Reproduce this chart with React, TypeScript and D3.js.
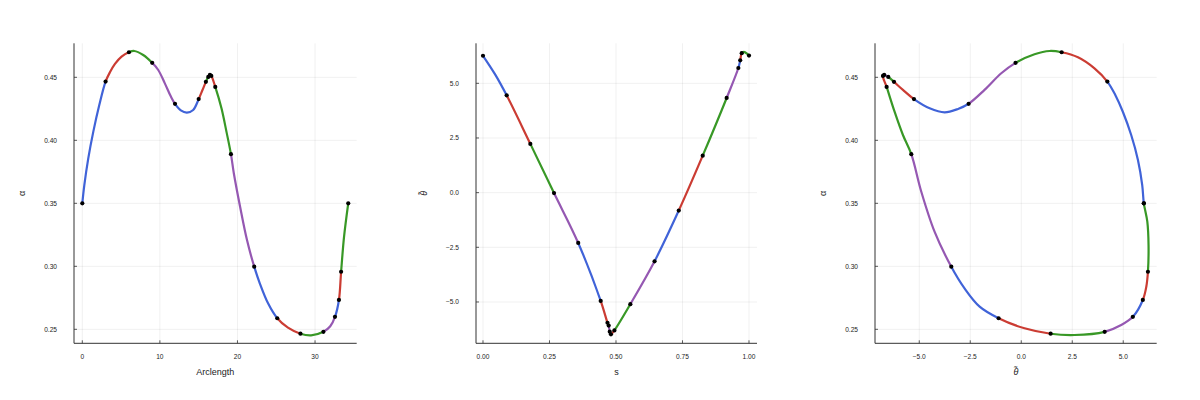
import React from "react";
import * as d3 from "d3";

// Segment colours cycle (blue, red, green, purple)
const segColors = ["#4063D8", "#CB3C33", "#389826", "#9558B2"];

// ---- Panel 1 : α versus arclength ----
const arclengthKnots = [0, 3.0, 6.01, 9.01, 11.95, 15.0, 15.93, 16.24, 16.45, 16.63, 17.14, 19.16, 22.16, 25.13, 28.12, 31.08, 32.57, 33.08, 33.36, 34.28];
const alphaKnots = [0.35, 0.4466, 0.4699, 0.4615, 0.429, 0.4327, 0.4464, 0.4503, 0.4519, 0.4511, 0.4424, 0.389, 0.2997, 0.2588, 0.2465, 0.248, 0.2599, 0.2733, 0.2957, 0.35];
// [segment, arclength, α] points read along the curve between knots
const arclengthVias: [number, number, number][] = [
  [0, 0.26, 0.3645], [0, 0.77, 0.3857], [0, 1.42, 0.4069], [0, 2.19, 0.428],
  [1, 3.56, 0.454], [1, 4.21, 0.4606], [1, 5.06, 0.4664],
  [2, 6.7, 0.4709], [2, 7.85, 0.4677],
  [3, 9.79, 0.4558], [3, 10.64, 0.4452], [3, 11.42, 0.4347],
  [4, 12.7, 0.4238], [4, 13.48, 0.422], [4, 14.29, 0.4241],
  [5, 15.49, 0.4399],
  [10, 17.94, 0.4254], [10, 18.58, 0.4069],
  [11, 19.53, 0.3739], [11, 20.34, 0.3473], [11, 21.23, 0.3208],
  [12, 22.89, 0.2863], [12, 23.96, 0.2704],
  [13, 26.51, 0.2513],
  [14, 29.49, 0.2452],
  [15, 31.96, 0.2524],
  [18, 33.74, 0.3235],
];

// ---- Panel 2 : θ̃ versus s ----
const sKnots = [0, 0.089, 0.178, 0.267, 0.358, 0.4425, 0.468, 0.4725, 0.4765, 0.481, 0.494, 0.554, 0.645, 0.736, 0.826, 0.916, 0.96, 0.967, 0.9726, 1.0];
const thetaSKnots = [6.26, 4.45, 2.23, -0.02, -2.3, -4.95, -5.95, -6.08, -6.36, -6.48, -6.3, -5.1, -3.14, -0.82, 1.69, 4.33, 5.7, 6.05, 6.38, 6.27];
const sVias: [number, number, number][] = [
  [0, 0.045, 5.42],
  [18, 0.981, 6.44],
];

// ---- Panel 3 : α versus θ̃ (closed loop) ----
const thetaKnots = [6.01, 4.22, 1.98, -0.28, -2.58, -5.26, -6.24, -6.52, -6.72, -6.78, -6.6, -5.39, -3.43, -1.11, 1.44, 4.09, 5.47, 5.96, 6.21, 6.01];
const thetaVias: [number, number, number][] = [
  [0, 5.93, 0.3645], [0, 5.72, 0.3844], [0, 5.39, 0.4042], [0, 4.98, 0.4227], [0, 4.61, 0.436],
  [1, 3.59, 0.4571], [1, 2.78, 0.4659],
  [2, 1.39, 0.4709], [2, 0.65, 0.4683],
  [3, -0.98, 0.4532], [3, -1.8, 0.44],
  [4, -3.1, 0.4249], [4, -3.76, 0.4222], [4, -4.49, 0.4254],
  [5, -5.8, 0.44],
  [10, -6.21, 0.4227], [10, -5.8, 0.4042],
  [11, -4.9, 0.3592], [11, -4.25, 0.3275],
  [12, -2.78, 0.2825], [12, -2.04, 0.268],
  [13, 0.16, 0.2508],
  [14, 2.61, 0.2455],
  [15, 4.9, 0.2534],
  [17, 6.13, 0.2838],
  [18, 6.24, 0.3169], [18, 6.18, 0.3354],
];

// ---- Ticks ----
const arclengthTicks = [0, 10, 20, 30];
const alphaTicks = [0.25, 0.3, 0.35, 0.4, 0.45];
const sTicks = [0, 0.25, 0.5, 0.75, 1];
const thetaTicks = [-5, -2.5, 0, 2.5, 5];

type Via = [number, number, number];
interface PanelSpec {
  xs: number[];
  ys: number[];
  vias: Via[];
  closed: boolean;
  left: number;
  right: number;
  xDomain: [number, number];
  yDomain: [number, number];
  xTicks: number[];
  yTicks: number[];
  xFmt: (v: number) => string;
  yFmt: (v: number) => string;
  xLabel: string;
  yLabel: string;
  xItalic?: boolean;
  yItalic?: boolean;
}

const TOP = 43.3;
const BOTTOM = 343.3;

const panels: PanelSpec[] = [
  {
    xs: arclengthKnots, ys: alphaKnots, vias: arclengthVias, closed: false,
    left: 74, right: 356.7, xDomain: [-1.07, 35.37], yDomain: [0.2389, 0.477],
    xTicks: arclengthTicks, yTicks: alphaTicks,
    xFmt: d3.format("d"), yFmt: d3.format(".2f"),
    xLabel: "Arclength", yLabel: "α",
  },
  {
    xs: sKnots, ys: thetaSKnots, vias: sVias, closed: false,
    left: 476, right: 757, xDomain: [-0.0263, 1.0301], yDomain: [-6.89, 6.83],
    xTicks: sTicks, yTicks: thetaTicks,
    xFmt: d3.format(".2f"), yFmt: d3.format(".1f"),
    xLabel: "s", yLabel: "θ̃", yItalic: true,
  },
  {
    xs: thetaKnots, ys: alphaKnots, vias: thetaVias, closed: true,
    left: 875, right: 1156.7, xDomain: [-7.17, 6.64], yDomain: [0.2389, 0.477],
    xTicks: thetaTicks, yTicks: alphaTicks,
    xFmt: d3.format(".1f"), yFmt: d3.format(".2f"),
    xLabel: "θ̃", yLabel: "α", xItalic: true,
  },
];

function Panel({ p }: { p: PanelSpec }) {
  const x = d3.scaleLinear().domain(p.xDomain).range([p.left, p.right]);
  const y = d3.scaleLinear().domain(p.yDomain).range([BOTTOM, TOP]);

  // ordered list of points (knots + points along the curve)
  const pts: [number, number][] = [];
  const knotIdx: number[] = [];
  for (let i = 0; i < p.xs.length; i++) {
    knotIdx.push(pts.length);
    pts.push([p.xs[i], p.ys[i]]);
    if (i < p.xs.length - 1) {
      p.vias.filter((v) => v[0] === i).forEach((v) => pts.push([v[1], v[2]]));
    }
  }

  const line = d3
    .line<[number, number]>()
    .x((d) => x(d[0]))
    .y((d) => y(d[1]))
    .curve(d3.curveCatmullRomOpen.alpha(0.5));

  const segs: { d: string; color: string }[] = [];
  for (let i = 0; i < p.xs.length - 1; i++) {
    const a = knotIdx[i];
    const b = knotIdx[i + 1];
    const body = pts.slice(a, b + 1);
    let prev: [number, number];
    let next: [number, number];
    if (a > 0) prev = pts[a - 1];
    else prev = p.closed ? pts[pts.length - 2] : pts[0];
    if (b < pts.length - 1) next = pts[b + 1];
    else next = p.closed ? pts[1] : pts[pts.length - 1];
    segs.push({ d: line([prev, ...body, next]) || "", color: segColors[i % segColors.length] });
  }

  const midX = (p.left + p.right) / 2;
  const midY = (TOP + BOTTOM) / 2;
  const yLabelX = p.left - 52;

  return (
    <g>
      {/* grid */}
      {p.xTicks.map((t) => (
        <line key={"gx" + t} x1={x(t)} x2={x(t)} y1={TOP} y2={BOTTOM} stroke="#000" strokeOpacity={0.1} strokeWidth={0.6} />
      ))}
      {p.yTicks.map((t) => (
        <line key={"gy" + t} x1={p.left} x2={p.right} y1={y(t)} y2={y(t)} stroke="#000" strokeOpacity={0.1} strokeWidth={0.6} />
      ))}
      {/* axes */}
      <line x1={p.left} x2={p.left} y1={TOP} y2={BOTTOM} stroke="#333" strokeWidth={1} />
      <line x1={p.left} x2={p.right} y1={BOTTOM} y2={BOTTOM} stroke="#333" strokeWidth={1} />
      {/* ticks */}
      {p.xTicks.map((t) => (
        <g key={"tx" + t}>
          <line x1={x(t)} x2={x(t)} y1={BOTTOM} y2={BOTTOM - 3} stroke="#333" strokeWidth={0.8} />
          <text x={x(t)} y={356.3} dy="0.35em" textAnchor="middle" fontSize={6.6} fill="#222">
            {p.xFmt(t)}
          </text>
        </g>
      ))}
      {p.yTicks.map((t) => (
        <g key={"ty" + t}>
          <line x1={p.left} x2={p.left + 3} y1={y(t)} y2={y(t)} stroke="#333" strokeWidth={0.8} />
          <text x={p.left - 17} y={y(t)} dy="0.35em" textAnchor="end" fontSize={6.6} fill="#222">
            {p.yFmt(t)}
          </text>
        </g>
      ))}
      {/* labels */}
      <text x={midX} y={372.3} dy="0.35em" textAnchor="middle" fontSize={9} fill="#222" fontStyle={p.xItalic ? "italic" : "normal"}>
        {p.xLabel}
      </text>
      <text
        x={yLabelX}
        y={midY}
        dy="0.35em"
        textAnchor="middle"
        fontSize={9}
        fill="#222"
        fontStyle={p.yItalic ? "italic" : "normal"}
        transform={`rotate(-90, ${yLabelX}, ${midY})`}
      >
        {p.yLabel}
      </text>
      {/* curve segments */}
      {segs.map((s, i) => (
        <path key={"s" + i} d={s.d} fill="none" stroke={s.color} strokeWidth={2.2} strokeLinecap="round" strokeLinejoin="round" />
      ))}
      {/* knots */}
      {p.xs.map((v, i) => (
        <circle key={"k" + i} cx={x(v)} cy={y(p.ys[i])} r={2.1} fill="#000" />
      ))}
    </g>
  );
}

export default function App() {
  return (
    <svg
      width={1200}
      height={400}
      style={{ position: "absolute", left: 0, top: 0, background: "#fff", display: "block" }}
      fontFamily="'Liberation Sans', 'DejaVu Sans', Arial, sans-serif"
    >
      <rect x={0} y={0} width={1200} height={400} fill="#fff" />
      {panels.map((p, i) => (
        <Panel key={i} p={p} />
      ))}
    </svg>
  );
}
